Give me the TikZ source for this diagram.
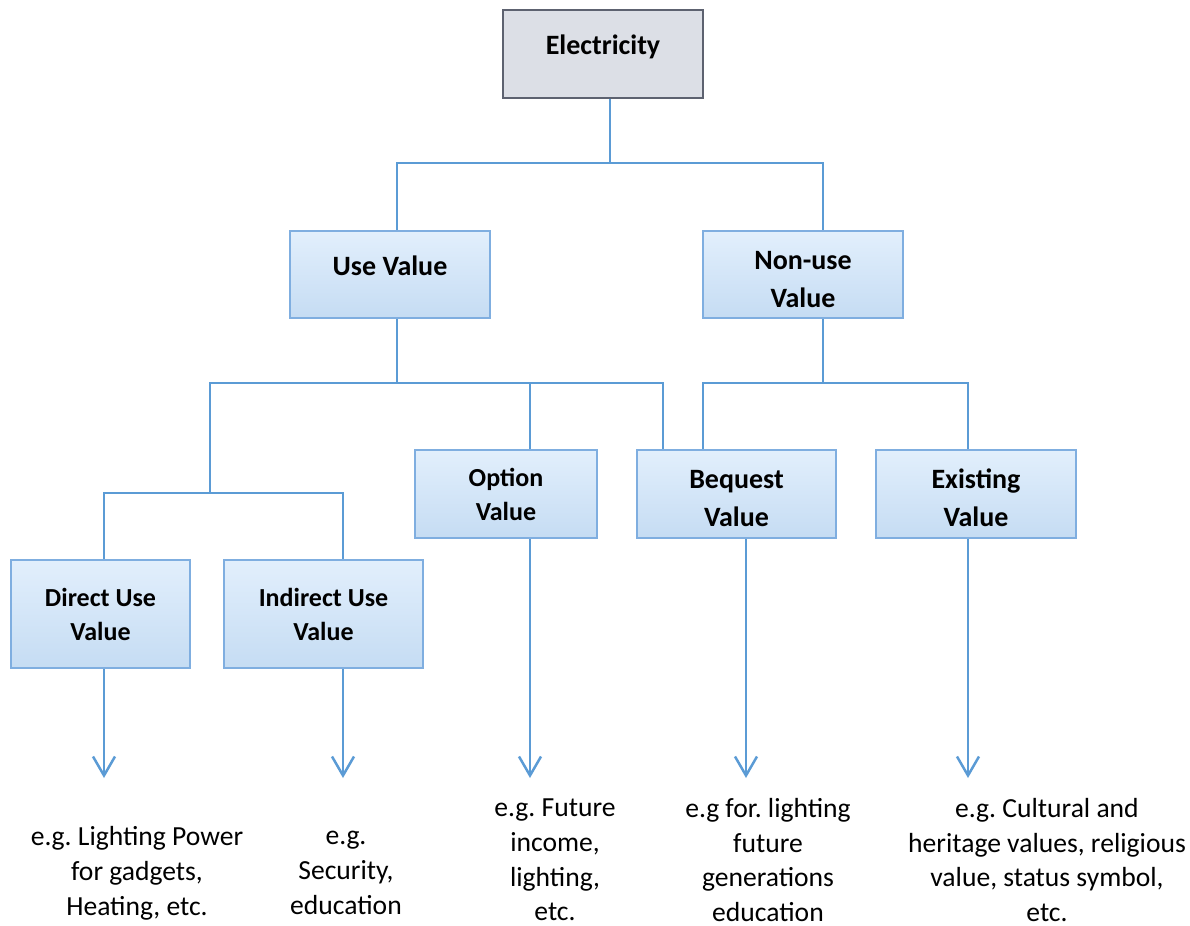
\documentclass[tikz,border=0pt]{standalone}
\usepackage{fontspec}
\setmainfont{Carlito}
\frenchspacing
\usepackage{xcolor}
\usepackage{tikz}
\usetikzlibrary{arrows.meta}
\definecolor{linkblue}{HTML}{5B9BD5}
\definecolor{boxedge}{HTML}{7FAEE0}
\definecolor{boxtop}{HTML}{E2EFFC}
\definecolor{boxbottom}{HTML}{C5DCF3}
\definecolor{rootfill}{HTML}{DCDFE6}
\definecolor{rootedge}{HTML}{5D6270}
\tikzset{
  valuebox/.style={draw=boxedge, line width=1pt, top color=boxtop, bottom color=boxbottom,
    align=center, font=\fontsize{14}{19}\selectfont\bfseries, inner sep=0pt},
  smallbox/.style={valuebox, font=\fontsize{13}{17}\selectfont\bfseries},
  oneline/.style={text depth=9pt},
  lowered/.style={text height=33pt},
  example/.style={align=center, font=\fontsize{13.8}{17.4}\selectfont, inner sep=0pt},
  link/.style={draw=linkblue, line width=1.25pt},
  arr/.style={link, -{Straight Barb[length=9.5pt,width=11pt]}}
}
\begin{document}
\begin{tikzpicture}[x=0.5pt,y=-0.5pt]
        \useasboundingbox (0,0) rectangle (1190,926);

        \node[valuebox, oneline, draw=rootedge, top color=rootfill, bottom color=rootfill,
          minimum width=100pt, minimum height=44pt] (elec) at (603,54) {Electricity};
        \node[valuebox, oneline, minimum width=100pt, minimum height=43.5pt] (use) at (390,274.5) {Use Value};
        \node[valuebox, lowered, minimum width=100pt, minimum height=43.5pt] (nonuse) at (803,274.5) {Non-use\\Value};
        \node[smallbox, minimum width=91pt, minimum height=44pt] (option) at (506,494) {Option\\Value};
        \node[valuebox, lowered, minimum width=99.5pt, minimum height=44pt] (bequest) at (736.5,494) {Bequest\\Value};
        \node[valuebox, lowered, minimum width=100pt, minimum height=44pt] (existing) at (976,494) {Existing\\Value};
        \node[smallbox, minimum width=89.5pt, minimum height=54pt] (direct) at (100.5,614) {Direct Use\\Value};
        \node[smallbox, minimum width=99.5pt, minimum height=54pt] (indirect) at (323.5,614) {Indirect Use\\Value};

        \node[example] (directex) at (137,873) {e.g. Lighting Power\\for gadgets,\\Heating, etc.};
        \node[example] (indirectex) at (346,873) {e.g.\\Security,\\education};
        \node[example] (optionex) at (555,860) {e.g. Future\\income,\\lighting,\\etc.};
        \node[example] (bequestex) at (768,860) {e.g for. lighting\\future\\generations\\education};
        \node[example] (existingex) at (1047,860) {e.g. Cultural and\\heritage values, religious\\value, status symbol,\\etc.};

        \coordinate (j1) at (610,163);
        \coordinate (j2) at (397,383);
        \coordinate (j3) at (823,383);
        \coordinate (j4) at (210,493);
        \coordinate (o1) at (530,383);
        \coordinate (b1) at (663,383);
        \coordinate (b2) at (703,383);
        \coordinate (e1) at (968,383);
        \coordinate (d1) at (104,493);
        \coordinate (i1) at (343,493);

        \coordinate (ad) at (104,778);
        \coordinate (ai) at (343,778);
        \coordinate (ao) at (530,778);
        \coordinate (ab) at (746,778);
        \coordinate (ae) at (968,778);

        \draw[link] (elec.south -| j1) -- (j1);
        \draw[link] (use.north -| j2) |- (j1) -| (nonuse.north -| j3);
        \draw[link] (use.south -| j2) -- (j2);
        \draw[link] (nonuse.south -| j3) -- (j3);
        \draw[link] (j4) |- (b1) -- (bequest.north -| b1);
        \draw[link] (o1) -- (option.north -| o1);
        \draw[link] (bequest.north -| b2) -- (b2) -- (e1) -- (existing.north -| e1);
        \draw[link] (direct.north -| d1) -- (d1) -- (i1) -- (indirect.north -| i1);

        \draw[arr] (direct.south -| ad) -- (ad);
        \draw[arr] (indirect.south -| ai) -- (ai);
        \draw[arr] (option.south -| ao) -- (ao);
        \draw[arr] (bequest.south -| ab) -- (ab);
        \draw[arr] (existing.south -| ae) -- (ae);
      \end{tikzpicture}
\end{document}
